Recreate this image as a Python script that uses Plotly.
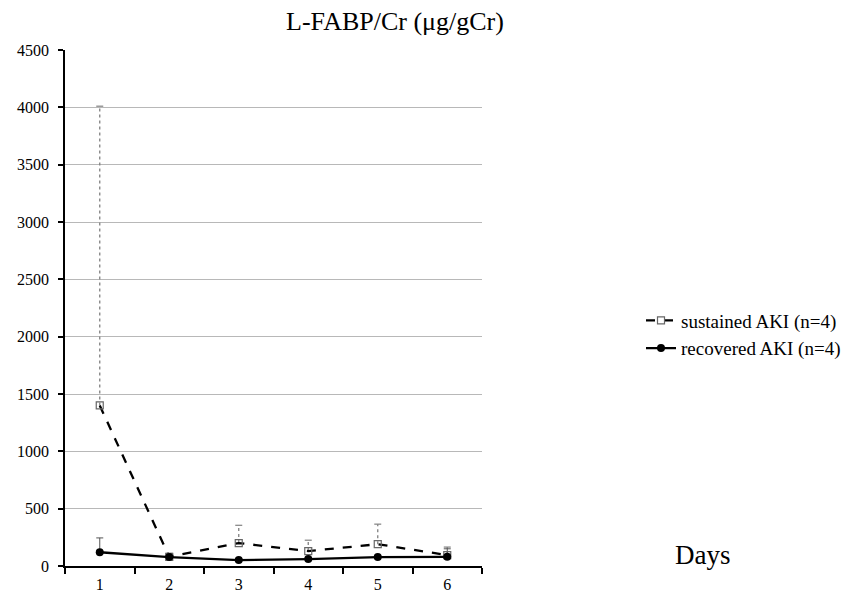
import plotly.graph_objects as go

days = ["1", "2", "3", "4", "5", "6"]
sustained = [1400, 80, 200, 130, 190, 95]
sustained_err = [2610, 30, 155, 95, 175, 70]
recovered = [120, 78, 52, 60, 78, 80]
recovered_err = [125, 10, 8, 8, 8, 70]

FONT = "Liberation Serif, Times New Roman, serif"

# page has an 8px body margin; figure size/margins compensate for it
W, H = 849, 590
ML, MR, MT, MB = 57, 375, 42, 32
PW, PH = W - ML - MR, H - MT - MB

def px_to_paper(xp, yp):
    # page pixel -> paper coords
    return ((xp - 8) - ML) / PW, (H - MB - (yp - 8)) / PH

def err_segments(vals, errs):
    xs, ys = [], []
    for d, v, e in zip(days, vals, errs):
        xs += [d, d, None]
        ys += [v, v + e, None]
    return xs, ys

fig = go.Figure()

sx, sy = err_segments(sustained, sustained_err)
fig.add_trace(go.Scatter(x=sx, y=sy, mode="lines", line=dict(color="#808080", width=1.3, dash="dot"),
                         showlegend=False, hoverinfo="skip"))
fig.add_trace(go.Scatter(x=days, y=[v + e for v, e in zip(sustained, sustained_err)], mode="markers",
                         marker=dict(symbol="line-ew-open", size=5, color="#808080",
                                     line=dict(color="#808080", width=1.2)),
                         showlegend=False, hoverinfo="skip"))
rx, ry = err_segments(recovered, recovered_err)
fig.add_trace(go.Scatter(x=rx, y=ry, mode="lines", line=dict(color="#555555", width=1),
                         showlegend=False, hoverinfo="skip"))
fig.add_trace(go.Scatter(x=days, y=[v + e for v, e in zip(recovered, recovered_err)], mode="markers",
                         marker=dict(symbol="line-ew-open", size=5, color="#555555",
                                     line=dict(color="#555555", width=1)),
                         showlegend=False, hoverinfo="skip"))

fig.add_trace(go.Scatter(x=days, y=sustained, mode="lines+markers", name="sustained AKI (n=4)",
                         line=dict(color="black", width=2.3, dash="dash"),
                         marker=dict(symbol="square-open", size=7, color="#666666",
                                     line=dict(color="#666666", width=1.2))))
fig.add_trace(go.Scatter(x=days, y=recovered, mode="lines+markers", name="recovered AKI (n=4)",
                         line=dict(color="black", width=2.3),
                         marker=dict(symbol="circle", size=8, color="black")))

lx, ly = px_to_paper(641, 334.5)
fig.update_layout(
    width=W, height=H,
    paper_bgcolor="white", plot_bgcolor="white",
    margin=dict(l=ML, r=MR, t=MT, b=MB, autoexpand=False),
    font=dict(family=FONT, size=16, color="black"),
    title=dict(text="L-FABP/Cr (μg/gCr)", x=(395 - 8) / W, xanchor="center",
               y=1 - (21 - 8) / H, yanchor="middle",
               font=dict(family=FONT, size=26, color="black")),
    legend=dict(x=lx, y=ly, xanchor="left", yanchor="middle",
                font=dict(family=FONT, size=19, color="black"), itemwidth=30,
                bgcolor="rgba(0,0,0,0)", tracegroupgap=0),
    showlegend=True,
)

fig.update_xaxes(type="category", categoryorder="array", categoryarray=days, tickson="boundaries",
                 showline=True, linecolor="black", linewidth=1.5, ticks="outside", ticklen=6,
                 tickcolor="black", tickwidth=1.5, showgrid=False, tickfont=dict(size=16),
                 ticklabelstandoff=3, range=[-0.5, 5.5], automargin=False)
fig.update_yaxes(range=[0, 4500], dtick=500, showline=True, linecolor="black", linewidth=1.5,
                 ticks="outside", ticklen=5, tickcolor="black", tickwidth=1.5,
                 showgrid=True, gridcolor="#b8b8b8", gridwidth=1.2, zeroline=False,
                 tickfont=dict(size=16), ticklabelstandoff=6, automargin=False)

dx, dy = px_to_paper(703, 555)
fig.add_annotation(text="Days", x=dx, y=dy, xref="paper", yref="paper", showarrow=False,
                   xanchor="center", yanchor="middle",
                   font=dict(family=FONT, size=27, color="black"))

fig.write_html("out.html")
